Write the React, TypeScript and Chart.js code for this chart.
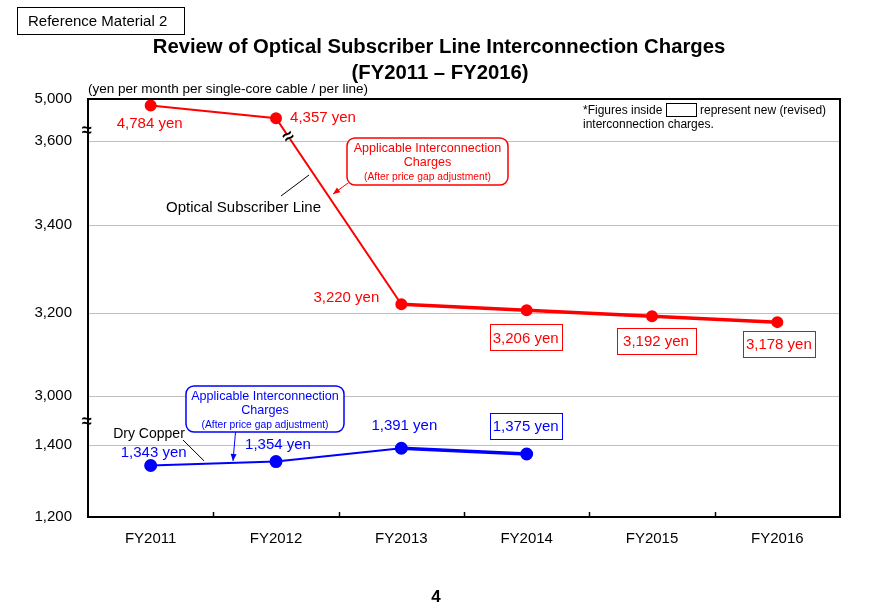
import React, { useEffect, useRef } from "react";
import { Chart, registerables } from "chart.js";

Chart.register(...registerables);

// ---------------- data ----------------
const categories = ["FY2011", "FY2012", "FY2013", "FY2014", "FY2015", "FY2016"];
const opticalCharges = [4784, 4357, 3220, 3206, 3192, 3178];
const dryCopperCharges: (number | null)[] = [1343, 1354, 1391, 1375, null, null];
const opticalRevised = [false, false, false, true, true, true];
const dryCopperRevised = [false, false, false, true, false, false];
const yTickValues = [1200, 1400, 3000, 3200, 3400, 3600, 5000];

// ---------------- layout (broken axis) ----------------
// height in px above the plot bottom where each tick value sits
const TICK_HEIGHTS = [0, 72, 121, 204, 292, 376, 418];
const FONT = '"Liberation Sans", Arial, sans-serif';
const RED = "#ff0000";
const BLUE = "#0000ff";

const OPT_LABEL_OFFSETS = [[-1, 17], [47, -1], [-55, -7], [-1, 27], [4, 25], [1.5, 22]];
const OPT_BOX_W = [0, 0, 0, 72, 79, 72];
const DRY_LABEL_OFFSETS = [[3, -14], [2, -18], [3, -23], [-1, -28]];
const DRY_BOX_W = [0, 0, 0, 72];

function toAxis(v: number): number {
  const t = yTickValues;
  const h = TICK_HEIGHTS;
  if (v <= t[0]) return h[0];
  for (let i = 0; i < t.length - 1; i++) {
    if (v <= t[i + 1]) return h[i] + ((v - t[i]) / (t[i + 1] - t[i])) * (h[i + 1] - h[i]);
  }
  return h[h.length - 1];
}

function fmt(v: number) {
  return v.toLocaleString("en-US");
}

function arrow(ctx: CanvasRenderingContext2D, x0: number, y0: number, x1: number, y1: number, color: string) {
  ctx.strokeStyle = color;
  ctx.fillStyle = color;
  ctx.lineWidth = 1;
  ctx.beginPath();
  ctx.moveTo(x0, y0);
  ctx.lineTo(x1, y1);
  ctx.stroke();
  const ang = Math.atan2(y1 - y0, x1 - x0);
  const L = 7, W = 3;
  ctx.beginPath();
  ctx.moveTo(x1, y1);
  ctx.lineTo(x1 - L * Math.cos(ang) + W * Math.sin(ang), y1 - L * Math.sin(ang) - W * Math.cos(ang));
  ctx.lineTo(x1 - L * Math.cos(ang) - W * Math.sin(ang), y1 - L * Math.sin(ang) + W * Math.cos(ang));
  ctx.closePath();
  ctx.fill();
}

function callout(ctx: CanvasRenderingContext2D, x: number, y: number, w: number, h: number, color: string) {
  ctx.fillStyle = "#fff";
  ctx.strokeStyle = color;
  ctx.lineWidth = 1.5;
  ctx.beginPath();
  (ctx as any).roundRect(x, y, w, h, 8);
  ctx.fill();
  ctx.stroke();
  const cx = x + w / 2;
  ctx.fillStyle = color;
  ctx.textAlign = "center";
  ctx.textBaseline = "middle";
  ctx.font = `12.6px ${FONT}`;
  ctx.fillText("Applicable Interconnection", cx, y + 11);
  ctx.fillText("Charges", cx, y + 25);
  ctx.font = `10.3px ${FONT}`;
  ctx.fillText("(After price gap adjustment)", cx, y + 39);
}

const overlay = {
  id: "overlay",
  afterDraw(chart: any) {
    const ctx: CanvasRenderingContext2D = chart.ctx;
    const a = chart.chartArea;
    const xs = chart.scales.x;
    ctx.save();

    // frame
    ctx.strokeStyle = "#000";
    ctx.lineWidth = 2;
    ctx.strokeRect(a.left, a.top, a.right - a.left, a.bottom - a.top);

    // inner tick marks on x axis
    ctx.lineWidth = 1.5;
    for (let i = 0; i < categories.length - 1; i++) {
      const x = Math.round((xs.getPixelForValue(i) + xs.getPixelForValue(i + 1)) / 2) + 0.5;
      ctx.beginPath();
      ctx.moveTo(x, a.bottom);
      ctx.lineTo(x, a.bottom - 5);
      ctx.stroke();
    }

    // axis break marks
    ctx.fillStyle = "#000";
    ctx.font = `bold 18px ${FONT}`;
    ctx.textAlign = "center";
    ctx.textBaseline = "middle";
    ctx.fillText("\u2248", a.left - 1, 131);
    ctx.fillText("\u2248", a.left - 1, 422);

    const opt = chart.getDatasetMeta(0).data;
    const dry = chart.getDatasetMeta(1).data;

    // break mark on the optical line between FY2012 and FY2013
    {
      const p0 = opt[1], p1 = opt[2];
      const t = 0.1;
      const bx = p0.x + (p1.x - p0.x) * t;
      const by = p0.y + (p1.y - p0.y) * t;
      const ang = Math.atan2(p1.y - p0.y, p1.x - p0.x);
      ctx.save();
      ctx.translate(bx, by);
      ctx.rotate(ang - Math.PI / 2);
      ctx.fillStyle = "#fff";
      ctx.fillRect(-4, -2.5, 8, 5);
      ctx.fillStyle = "#000";
      ctx.font = `bold 19px ${FONT}`;
      ctx.fillText("\u2248", 0, 0);
      ctx.restore();
    }

    // value labels
    const drawLabels = (pts: any[], vals: (number | null)[], offs: number[][], boxW: number[], revised: boolean[], color: string) => {
      ctx.font = `15px ${FONT}`;
      ctx.textAlign = "center";
      ctx.textBaseline = "middle";
      vals.forEach((v, i) => {
        if (v == null || !pts[i]) return;
        const cx = pts[i].x + offs[i][0];
        const cy = pts[i].y + offs[i][1];
        if (revised[i]) {
          const w = boxW[i], h = 26;
          ctx.fillStyle = "#fff";
          ctx.fillRect(cx - w / 2, cy - h / 2, w, h);
          ctx.strokeStyle = color;
          ctx.lineWidth = 1;
          ctx.strokeRect(Math.round(cx - w / 2) + 0.5, Math.round(cy - h / 2) + 0.5, w, h);
        }
        ctx.fillStyle = color;
        ctx.fillText(`${fmt(v)} yen`, cx, cy + 1);
      });
    };
    drawLabels(opt, opticalCharges, OPT_LABEL_OFFSETS, OPT_BOX_W, opticalRevised, RED);
    drawLabels(dry, dryCopperCharges, DRY_LABEL_OFFSETS, DRY_BOX_W, dryCopperRevised, BLUE);

    // red callout
    callout(ctx, 347, 138, 161, 47, RED);
    {
      const p0 = opt[1], p1 = opt[2];
      const ty = 194;
      const tx = p0.x + ((ty - p0.y) / (p1.y - p0.y)) * (p1.x - p0.x) + 6;
      arrow(ctx, 348, 183, tx, ty, RED);
    }

    // blue callout
    callout(ctx, 186, 386, 158, 46, BLUE);
    {
      const p0 = dry[0], p1 = dry[1];
      const tx = 233;
      const ty = p0.y + ((tx - p0.x) / (p1.x - p0.x)) * (p1.y - p0.y) - 2;
      arrow(ctx, 235.5, 432, tx, ty, BLUE);
    }

    // series names with leader lines
    ctx.fillStyle = "#000";
    ctx.strokeStyle = "#000";
    ctx.lineWidth = 1;
    ctx.font = `15px ${FONT}`;
    ctx.textAlign = "center";
    ctx.fillText("Optical Subscriber Line", 243.5, 208);
    ctx.beginPath();
    ctx.moveTo(281, 196);
    ctx.lineTo(309, 175);
    ctx.stroke();

    ctx.font = `14px ${FONT}`;
    ctx.fillText("Dry Copper", 149, 434);
    {
      const p0 = dry[0], p1 = dry[1];
      const ex = 204;
      const ey = p0.y + ((ex - p0.x) / (p1.x - p0.x)) * (p1.y - p0.y) - 3;
      ctx.beginPath();
      ctx.moveTo(183, 440);
      ctx.lineTo(ex, ey);
      ctx.stroke();
    }

    // note
    ctx.font = `12px ${FONT}`;
    ctx.textAlign = "left";
    ctx.fillText("*Figures inside", 583, 111);
    ctx.strokeRect(666.5, 103.5, 30, 13);
    ctx.fillText("represent new (revised)", 700, 111);
    ctx.fillText("interconnection charges.", 583, 125);

    // unit
    ctx.font = `13.5px ${FONT}`;
    ctx.fillText("(yen per month per single-core cable / per line)", 88, 89);

    // header box
    ctx.lineWidth = 1;
    ctx.strokeRect(17.5, 7.5, 167, 27);
    ctx.font = `15px ${FONT}`;
    ctx.fillText("Reference Material 2", 28, 21.5);

    // title
    ctx.textAlign = "center";
    ctx.font = `bold 20.3px ${FONT}`;
    ctx.fillText("Review of Optical Subscriber Line Interconnection Charges", 439, 47);
    ctx.fillText("(FY2011 \u2013 FY2016)", 440, 73);

    // page number
    ctx.font = `bold 17px ${FONT}`;
    ctx.fillText("4", 436, 597);

    ctx.restore();
  },
};

export default function App() {
  const ref = useRef<HTMLCanvasElement | null>(null);

  useEffect(() => {
    document.body.style.margin = "0";
    const canvas = ref.current;
    if (!canvas) return;
    const chart = new Chart(canvas, {
      type: "line",
      data: {
        labels: categories,
        datasets: [
          {
            data: opticalCharges.map(toAxis),
            borderColor: RED,
            backgroundColor: RED,
            pointBackgroundColor: RED,
            pointBorderColor: RED,
            pointRadius: 5,
            borderWidth: 2,
            tension: 0,
            segment: { borderWidth: (c: any) => (c.p0DataIndex >= 2 ? 3.5 : 2) },
          } as any,
          {
            data: dryCopperCharges.map((v) => (v == null ? null : toAxis(v))),
            borderColor: BLUE,
            backgroundColor: BLUE,
            pointBackgroundColor: BLUE,
            pointBorderColor: BLUE,
            pointRadius: 5.5,
            borderWidth: 2,
            tension: 0,
            segment: { borderWidth: (c: any) => (c.p0DataIndex >= 2 ? 3.5 : 2) },
          } as any,
        ],
      },
      options: {
        responsive: false,
        animation: false,
        devicePixelRatio: 1,
        layout: { padding: { top: 99, right: 40, left: 0, bottom: 0 } },
        plugins: { legend: { display: false }, tooltip: { enabled: false }, title: { display: false } },
        scales: {
          x: {
            type: "category",
            offset: true,
            grid: { display: false },
            border: { display: false },
            ticks: { color: "#000", font: { family: FONT, size: 15 }, padding: 5, maxRotation: 0 },
            afterFit: (s: any) => {
              s.height = 92;
            },
          },
          y: {
            type: "linear",
            min: 0,
            max: TICK_HEIGHTS[TICK_HEIGHTS.length - 1],
            afterBuildTicks: (s: any) => {
              s.ticks = TICK_HEIGHTS.map((v) => ({ value: v }));
            },
            ticks: {
              color: "#000",
              font: { family: FONT, size: 15 },
              padding: 16,
              callback: (_v: any, i: number) => fmt(yTickValues[i]),
            },
            grid: {
              drawTicks: false,
              lineWidth: 1,
              color: (c: any) => {
                const idx = c.index;
                return idx === 0 || idx === TICK_HEIGHTS.length - 1 ? "rgba(0,0,0,0)" : "#c0c0c0";
              },
            },
            border: { display: false },
            afterFit: (s: any) => {
              s.width = 88;
            },
          },
        },
      } as any,
      plugins: [overlay],
    });
    return () => chart.destroy();
  }, []);

  return <canvas ref={ref} width={880} height={609} style={{ display: "block" }} />;
}
